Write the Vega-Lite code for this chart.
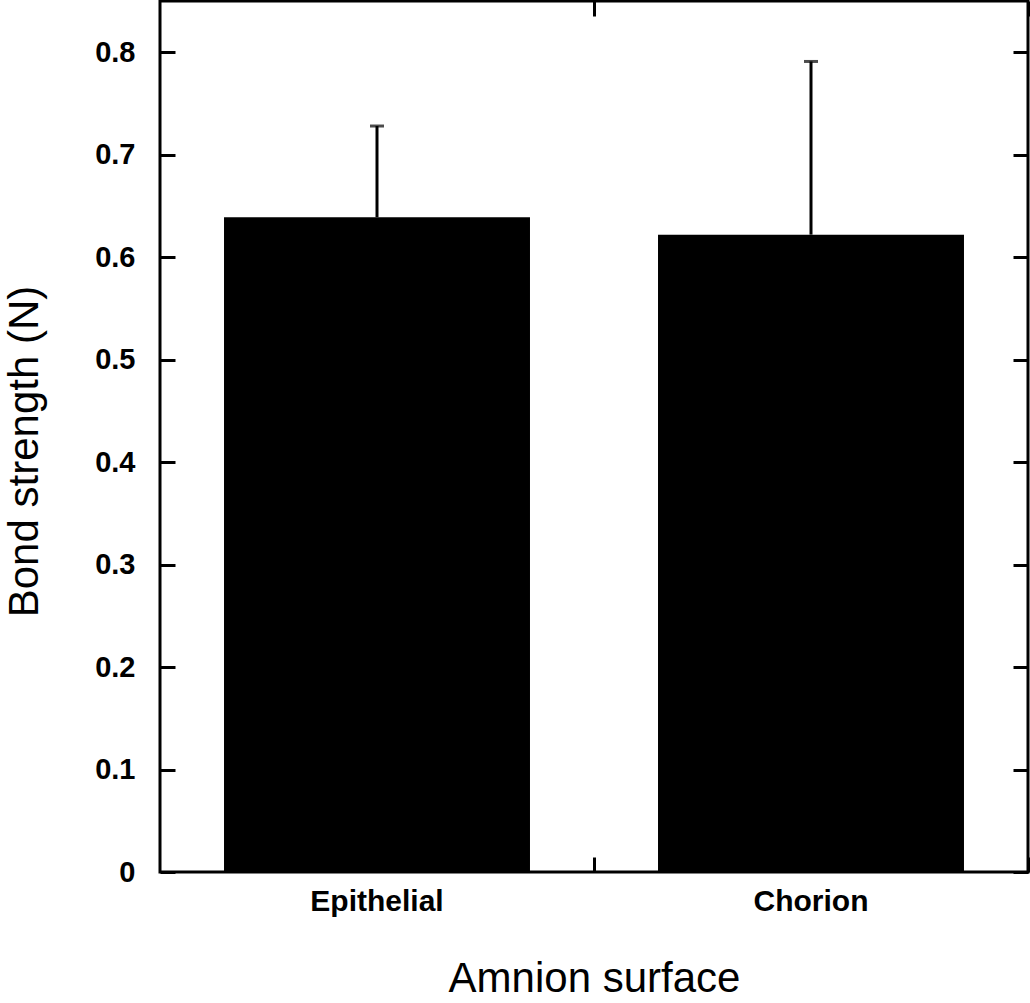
{
  "$schema": "https://vega.github.io/schema/vega-lite/v6.json",
  "autosize": "none",
  "width": 868,
  "height": 871,
  "padding": {"left": 160, "top": 1, "right": 2, "bottom": 131},
  "background": "white",
  "config": {
    "view": {"stroke": "black", "strokeWidth": 3},
    "axis": {"domain": false, "grid": false, "tickColor": "black", "tickWidth": 3, "labelColor": "black", "titleColor": "black", "labelFont": "Liberation Sans", "titleFont": "Liberation Sans"}
  },
  "data": {"values": [
    {"surface": "Epithelial", "mean": 0.639, "upper": 0.728},
    {"surface": "Chorion", "mean": 0.622, "upper": 0.791}
  ]},
  "encoding": {
    "x": {"field": "surface", "type": "nominal", "sort": null,
      "scale": {"paddingInner": 0.295, "paddingOuter": 0.1475}}
  },
  "layer": [
    {
      "mark": {"type": "bar", "color": "black"},
      "encoding": {
        "x": {"field": "surface", "type": "nominal", "sort": null,
          "axis": {"orient": "bottom", "title": "Amnion surface", "labelAngle": 0, "ticks": false, "labelPadding": 14, "labelFontSize": 30, "labelFontWeight": "bold", "titleFontSize": 42, "titleFontWeight": "normal", "titlePadding": 42}},
        "y": {"field": "mean", "type": "quantitative",
          "scale": {"domain": [0, 0.85], "nice": false, "zero": true},
          "axis": {"orient": "left", "title": "Bond strength (N)", "titleY": 450, "values": [0, 0.1, 0.2, 0.3, 0.4, 0.5, 0.6, 0.7, 0.8], "format": "~g", "tickSize": -15, "labelPadding": 40, "labelFontSize": 29, "labelFontWeight": "bold", "titleFontSize": 42, "titleFontWeight": "normal", "titlePadding": 48}}
      }
    },
    {
      "mark": {"type": "rule", "color": "black", "strokeWidth": 3},
      "encoding": {
        "x": {"field": "surface", "type": "nominal", "sort": null,
          "axis": {"orient": "top", "title": null, "labels": false, "tickOffset": 217, "tickSize": -15}},
        "y": {"field": "mean", "type": "quantitative",
          "axis": {"orient": "right", "title": null, "labels": false, "values": [0, 0.1, 0.2, 0.3, 0.4, 0.5, 0.6, 0.7, 0.8], "tickSize": -15}},
        "y2": {"field": "upper"}
      }
    },
    {
      "mark": {"type": "tick", "color": "black", "size": 14, "thickness": 3},
      "encoding": {
        "x": {"field": "surface", "type": "nominal", "sort": null,
          "axis": {"orient": "bottom", "title": null, "labels": false, "tickOffset": 217, "tickSize": -15}},
        "y": {"field": "upper", "type": "quantitative", "axis": null}
      }
    }
  ],
  "resolve": {"axis": {"x": "independent", "y": "independent"}}
}
